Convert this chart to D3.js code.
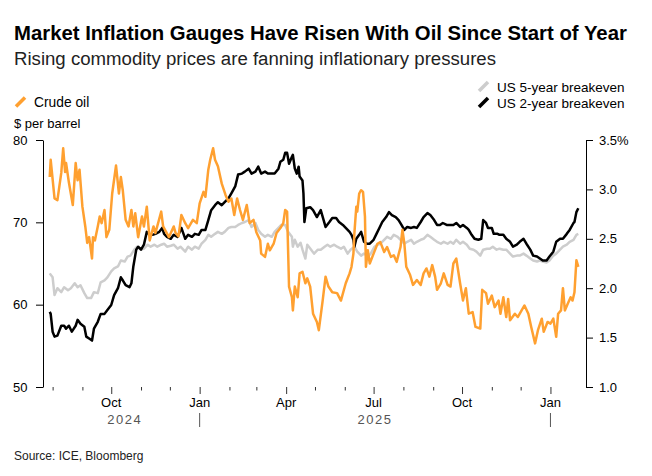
<!DOCTYPE html>
<html>
<head>
<meta charset="utf-8">
<script src="https://cdn.jsdelivr.net/npm/d3@7"></script>
<style>
  body { margin: 0; background: #fff; }
  svg { display: block; font-family: "Liberation Sans", Arial, sans-serif; }
</style>
</head>
<body>
<svg id="chart" width="652" height="476"></svg>
<script>
// ---- data ----
const oilData = [
  ["2024-07-29",75.5],["2024-07-30",77.6],["2024-08-03",72.9],["2024-08-06",72.7],["2024-08-10",76.0],["2024-08-12",79.0],
  ["2024-08-14",76.1],["2024-08-15",77.2],["2024-08-18",74.8],["2024-08-22",72.1],["2024-08-25",77.2],["2024-08-27",75.1],
  ["2024-08-29",76.4],["2024-09-01",71.9],["2024-09-04",69.5],["2024-09-06",67.5],["2024-09-08",68.2],["2024-09-11",65.6],
  ["2024-09-12",68.2],["2024-09-14",67.8],["2024-09-17",69.5],["2024-09-19",70.7],["2024-09-21",69.9],["2024-09-24",71.5],
  ["2024-09-26",68.2],["2024-09-29",69.1],["2024-10-02",73.5],["2024-10-06",76.9],["2024-10-09",73.5],["2024-10-11",75.5],
  ["2024-10-13",73.9],["2024-10-16",70.3],["2024-10-19",69.5],["2024-10-22",71.5],["2024-10-24",69.5],["2024-10-26",71.1],
  ["2024-10-29",68.2],["2024-11-02",70.7],["2024-11-04",69.5],["2024-11-07",71.9],["2024-11-10",67.8],["2024-11-14",69.5],
  ["2024-11-16",68.7],["2024-11-22",71.3],["2024-11-24",69.5],["2024-11-30",68.2],["2024-12-05",69.5],["2024-12-07",68.7],
  ["2024-12-10",68.3],["2024-12-13",70.9],["2024-12-17",69.9],["2024-12-20",69.3],["2024-12-25",70.3],["2024-12-29",69.9],
  ["2025-01-01",72.3],["2025-01-05",73.7],["2025-01-07",73.1],["2025-01-10",76.4],["2025-01-12",77.6],["2025-01-15",79.0],
  ["2025-01-17",77.6],["2025-01-20",76.8],["2025-01-24",74.7],["2025-01-28",73.3],["2025-01-31",72.5],["2025-02-03",72.9],
  ["2025-02-06",70.9],["2025-02-09",72.9],["2025-02-12",71.5],["2025-02-15",70.3],["2025-02-19",72.1],["2025-02-22",69.9],
  ["2025-02-26",70.3],["2025-03-01",68.8],["2025-03-05",67.8],["2025-03-06",66.2],["2025-03-10",65.8],["2025-03-13",67.4],
  ["2025-03-15",66.6],["2025-03-19",67.4],["2025-03-22",68.7],["2025-03-26",69.3],["2025-03-29",69.9],["2025-03-31",71.5],
  ["2025-04-02",71.3],["2025-04-04",62.2],["2025-04-07",60.9],["2025-04-08",59.3],["2025-04-10",62.2],["2025-04-13",60.9],
  ["2025-04-15",63.8],["2025-04-18",64.0],["2025-04-21",62.6],["2025-04-23",63.2],["2025-04-26",62.2],["2025-04-29",58.9],
  ["2025-05-03",57.9],["2025-05-05",56.9],["2025-05-09",60.5],["2025-05-12",63.4],["2025-05-15",62.2],["2025-05-19",61.5],
  ["2025-05-24",61.4],["2025-05-28",60.5],["2025-06-02",62.6],["2025-06-06",63.8],["2025-06-08",64.6],["2025-06-10",66.2],
  ["2025-06-11",68.7],["2025-06-13",71.9],["2025-06-14",71.3],["2025-06-16",73.5],["2025-06-18",73.9],["2025-06-20",73.7],
  ["2025-06-22",70.7],["2025-06-23",64.6],["2025-06-25",66.6],["2025-06-27",65.0],["2025-07-01",66.2],["2025-07-05",67.4],
  ["2025-07-08",67.6],["2025-07-12",66.4],["2025-07-15",67.0],["2025-07-19",65.8],["2025-07-22",66.0],["2025-07-25",65.2],
  ["2025-07-29",67.0],["2025-07-31",69.1],["2025-08-02",67.4],["2025-08-04",64.6],["2025-08-08",63.6],["2025-08-11",62.4],
  ["2025-08-15",63.0],["2025-08-19",62.4],["2025-08-22",63.8],["2025-08-25",64.4],["2025-08-28",63.4],["2025-08-31",64.8],
  ["2025-09-03",63.4],["2025-09-05",61.8],["2025-09-09",62.6],["2025-09-12",63.8],["2025-09-16",62.4],["2025-09-19",62.2],
  ["2025-09-22",65.0],["2025-09-25",65.6],["2025-09-29",62.6],["2025-10-02",60.5],["2025-10-05",62.0],["2025-10-08",58.9],
  ["2025-10-12",59.1],["2025-10-15",57.3],["2025-10-20",57.1],["2025-10-22",61.8],["2025-10-26",61.4],["2025-10-28",60.1],
  ["2025-11-01",61.1],["2025-11-04",59.7],["2025-11-08",60.5],["2025-11-10",58.9],["2025-11-13",60.9],["2025-11-16",58.5],
  ["2025-11-18",60.7],["2025-11-20",58.1],["2025-11-25",58.9],["2025-11-28",58.5],["2025-12-02",59.3],["2025-12-05",59.9],
  ["2025-12-09",58.9],["2025-12-12",57.3],["2025-12-16",55.3],["2025-12-19",56.9],["2025-12-23",58.3],["2025-12-25",56.7],
  ["2025-12-29",57.9],["2026-01-01",57.7],["2026-01-04",58.3],["2026-01-07",56.1],["2026-01-09",58.9],["2026-01-12",59.3],
  ["2026-01-14",62.0],["2026-01-16",59.3],["2026-01-19",60.1],["2026-01-22",60.9],["2026-01-24",60.5],["2026-01-26",61.5],
  ["2026-01-28",65.4],["2026-01-30",64.6]
];

const be5Data = [
  ["2024-07-29",2.15],["2024-08-01",2.11],["2024-08-03",1.93],["2024-08-06",2.00],["2024-08-10",1.96],["2024-08-13",2.01],
  ["2024-08-17",1.98],["2024-08-20",2.00],["2024-08-24",2.05],["2024-08-27",2.01],["2024-08-30",2.03],["2024-09-03",1.95],
  ["2024-09-06",1.90],["2024-09-10",1.90],["2024-09-13",1.96],["2024-09-17",1.95],["2024-09-20",2.06],["2024-09-24",2.08],
  ["2024-09-27",2.11],["2024-10-01",2.17],["2024-10-04",2.20],["2024-10-08",2.22],["2024-10-11",2.28],["2024-10-15",2.27],
  ["2024-10-18",2.32],["2024-10-21",2.33],["2024-10-25",2.39],["2024-10-28",2.42],["2024-11-01",2.39],["2024-11-04",2.40],
  ["2024-11-08",2.44],["2024-11-11",2.42],["2024-11-15",2.44],["2024-11-18",2.42],["2024-11-22",2.44],["2024-11-25",2.45],
  ["2024-11-28",2.42],["2024-12-02",2.43],["2024-12-05",2.44],["2024-12-09",2.40],["2024-12-12",2.42],["2024-12-17",2.37],
  ["2024-12-20",2.42],["2024-12-24",2.39],["2024-12-27",2.42],["2024-12-31",2.40],["2025-01-03",2.45],["2025-01-07",2.49],
  ["2025-01-10",2.54],["2025-01-13",2.52],["2025-01-17",2.55],["2025-01-20",2.57],["2025-01-24",2.55],["2025-01-27",2.57],
  ["2025-01-31",2.61],["2025-02-03",2.62],["2025-02-07",2.62],["2025-02-10",2.64],["2025-02-14",2.66],["2025-02-17",2.67],
  ["2025-02-21",2.69],["2025-02-24",2.62],["2025-02-28",2.66],["2025-03-03",2.59],["2025-03-06",2.55],["2025-03-10",2.52],
  ["2025-03-13",2.54],["2025-03-17",2.52],["2025-03-20",2.57],["2025-03-24",2.61],["2025-03-27",2.64],["2025-03-31",2.64],
  ["2025-04-03",2.57],["2025-04-07",2.52],["2025-04-08",2.42],["2025-04-10",2.49],["2025-04-13",2.42],["2025-04-16",2.46],
  ["2025-04-18",2.39],["2025-04-21",2.30],["2025-04-23",2.44],["2025-04-27",2.39],["2025-04-30",2.35],["2025-05-04",2.39],
  ["2025-05-07",2.39],["2025-05-11",2.42],["2025-05-14",2.44],["2025-05-17",2.42],["2025-05-21",2.44],["2025-05-24",2.42],
  ["2025-05-28",2.40],["2025-05-31",2.42],["2025-06-04",2.35],["2025-06-07",2.39],["2025-06-11",2.42],["2025-06-14",2.37],
  ["2025-06-18",2.33],["2025-06-21",2.35],["2025-06-25",2.32],["2025-06-28",2.35],["2025-07-02",2.42],["2025-07-05",2.44],
  ["2025-07-08",2.45],["2025-07-12",2.49],["2025-07-15",2.52],["2025-07-19",2.50],["2025-07-22",2.54],["2025-07-26",2.52],
  ["2025-07-29",2.49],["2025-08-02",2.45],["2025-08-05",2.47],["2025-08-09",2.49],["2025-08-12",2.45],["2025-08-15",2.47],
  ["2025-08-19",2.49],["2025-08-22",2.50],["2025-08-26",2.54],["2025-08-29",2.52],["2025-09-02",2.49],["2025-09-05",2.47],
  ["2025-09-09",2.45],["2025-09-12",2.47],["2025-09-16",2.45],["2025-09-19",2.47],["2025-09-22",2.45],["2025-09-25",2.49],
  ["2025-09-29",2.45],["2025-10-02",2.47],["2025-10-06",2.44],["2025-10-09",2.40],["2025-10-13",2.39],["2025-10-16",2.37],
  ["2025-10-20",2.33],["2025-10-23",2.39],["2025-10-27",2.40],["2025-10-30",2.40],["2025-11-02",2.42],["2025-11-06",2.39],
  ["2025-11-09",2.40],["2025-11-13",2.39],["2025-11-16",2.39],["2025-11-20",2.35],["2025-11-23",2.32],["2025-11-27",2.33],
  ["2025-11-30",2.33],["2025-12-04",2.35],["2025-12-07",2.33],["2025-12-11",2.30],["2025-12-14",2.28],["2025-12-18",2.27],
  ["2025-12-21",2.28],["2025-12-24",2.27],["2025-12-28",2.26],["2025-12-31",2.28],["2026-01-04",2.33],["2026-01-07",2.35],
  ["2026-01-11",2.39],["2026-01-14",2.42],["2026-01-18",2.44],["2026-01-21",2.47],["2026-01-25",2.49],["2026-01-28",2.54],
  ["2026-01-30",2.55]
];

const be2Data = [
  ["2024-07-29",1.76],["2024-07-30",1.74],["2024-08-01",1.56],["2024-08-03",1.51],["2024-08-06",1.52],["2024-08-10",1.62],
  ["2024-08-13",1.62],["2024-08-15",1.59],["2024-08-18",1.62],["2024-08-21",1.56],["2024-08-25",1.62],["2024-08-27",1.68],
  ["2024-08-30",1.64],["2024-09-03",1.61],["2024-09-05",1.51],["2024-09-08",1.49],["2024-09-11",1.47],["2024-09-13",1.59],
  ["2024-09-17",1.66],["2024-09-20",1.74],["2024-09-24",1.74],["2024-09-27",1.78],["2024-10-01",1.83],["2024-10-04",1.93],
  ["2024-10-08",2.00],["2024-10-11",2.11],["2024-10-13",2.08],["2024-10-16",2.03],["2024-10-20",2.01],["2024-10-22",2.05],
  ["2024-10-24",2.22],["2024-10-27",2.39],["2024-10-29",2.42],["2024-11-01",2.39],["2024-11-04",2.44],["2024-11-07",2.57],
  ["2024-11-09",2.55],["2024-11-13",2.54],["2024-11-16",2.55],["2024-11-20",2.57],["2024-11-23",2.61],["2024-11-25",2.55],
  ["2024-11-28",2.52],["2024-12-02",2.50],["2024-12-05",2.54],["2024-12-09",2.52],["2024-12-13",2.61],["2024-12-17",2.50],
  ["2024-12-20",2.54],["2024-12-24",2.52],["2024-12-27",2.55],["2024-12-31",2.54],["2025-01-03",2.59],["2025-01-07",2.59],
  ["2025-01-10",2.69],["2025-01-13",2.79],["2025-01-17",2.84],["2025-01-20",2.87],["2025-01-24",2.84],["2025-01-27",2.87],
  ["2025-01-31",2.91],["2025-02-03",2.96],["2025-02-07",3.03],["2025-02-10",3.15],["2025-02-14",3.16],["2025-02-17",3.18],
  ["2025-02-21",3.21],["2025-02-24",3.16],["2025-02-28",3.18],["2025-03-03",3.23],["2025-03-06",3.16],["2025-03-10",3.18],
  ["2025-03-13",3.16],["2025-03-17",3.16],["2025-03-20",3.16],["2025-03-24",3.21],["2025-03-26",3.28],["2025-03-29",3.30],
  ["2025-03-31",3.37],["2025-04-02",3.37],["2025-04-04",3.26],["2025-04-07",3.33],["2025-04-08",3.35],["2025-04-10",3.21],
  ["2025-04-12",3.16],["2025-04-14",3.23],["2025-04-15",3.13],["2025-04-18",3.09],["2025-04-19",2.96],["2025-04-20",2.67],
  ["2025-04-22",2.81],["2025-04-26",2.82],["2025-04-29",2.79],["2025-05-03",2.72],["2025-05-07",2.79],["2025-05-10",2.69],
  ["2025-05-12",2.62],["2025-05-16",2.67],["2025-05-19",2.71],["2025-05-23",2.71],["2025-05-26",2.67],["2025-05-30",2.64],
  ["2025-06-02",2.61],["2025-06-06",2.57],["2025-06-08",2.54],["2025-06-10",2.49],["2025-06-11",2.42],["2025-06-13",2.50],
  ["2025-06-16",2.54],["2025-06-18",2.57],["2025-06-21",2.47],["2025-06-24",2.45],["2025-06-27",2.45],["2025-07-01",2.49],
  ["2025-07-04",2.55],["2025-07-07",2.61],["2025-07-10",2.67],["2025-07-14",2.72],["2025-07-17",2.77],["2025-07-20",2.74],
  ["2025-07-24",2.72],["2025-07-27",2.69],["2025-07-30",2.64],["2025-08-02",2.59],["2025-08-05",2.62],["2025-08-09",2.61],
  ["2025-08-12",2.62],["2025-08-15",2.61],["2025-08-19",2.67],["2025-08-22",2.72],["2025-08-26",2.76],["2025-08-29",2.74],
  ["2025-09-02",2.69],["2025-09-05",2.64],["2025-09-08",2.64],["2025-09-11",2.66],["2025-09-15",2.64],["2025-09-18",2.64],
  ["2025-09-22",2.64],["2025-09-25",2.66],["2025-09-29",2.62],["2025-10-02",2.64],["2025-10-06",2.61],["2025-10-08",2.59],
  ["2025-10-11",2.54],["2025-10-14",2.50],["2025-10-18",2.49],["2025-10-21",2.50],["2025-10-23",2.69],["2025-10-26",2.66],
  ["2025-10-28",2.61],["2025-11-01",2.61],["2025-11-03",2.55],["2025-11-07",2.55],["2025-11-09",2.54],["2025-11-13",2.54],
  ["2025-11-16",2.50],["2025-11-20",2.47],["2025-11-23",2.42],["2025-11-27",2.44],["2025-11-30",2.47],["2025-12-04",2.50],
  ["2025-12-07",2.45],["2025-12-11",2.39],["2025-12-14",2.33],["2025-12-18",2.32],["2025-12-21",2.30],["2025-12-24",2.28],
  ["2025-12-28",2.28],["2025-12-31",2.32],["2026-01-04",2.37],["2026-01-07",2.47],["2026-01-11",2.50],["2026-01-14",2.50],
  ["2026-01-18",2.55],["2026-01-21",2.59],["2026-01-25",2.66],["2026-01-26",2.67],["2026-01-28",2.77],["2026-01-30",2.81]
];

const oilTicks = [50, 60, 70, 80];
const pctTicks = [1.0, 1.5, 2.0, 2.5, 3.0, 3.5];
const monthTicks = ["2024-08-01","2024-09-01","2024-10-01","2024-11-01","2024-12-01","2025-01-01",
  "2025-02-01","2025-03-01","2025-04-01","2025-05-01","2025-06-01","2025-07-01","2025-08-01",
  "2025-09-01","2025-10-01","2025-11-01","2025-12-01","2026-01-01"];
const monthLabels = [["2024-10-01","Oct"],["2025-01-01","Jan"],["2025-04-01","Apr"],
  ["2025-07-01","Jul"],["2025-10-01","Oct"],["2026-01-01","Jan"]];
const yearBreaks = ["2025-01-01","2026-01-01"];
const yearNames = ["2024", "2025"];

const ORANGE = "#ffa030", GREY = "#cdcdcd", BLACK = "#000";

// ---- setup ----
const parse = d3.utcParse("%Y-%m-%d");
const svg = d3.select("#chart");
const plotL = 43, plotR = 586, plotT = 140, plotB = 387;

const x = d3.scaleUtc()
  .domain([parse("2024-07-22"), parse("2026-02-07")])
  .range([plotL, plotR]);
const yOil = d3.scaleLinear().domain([50, 80]).range([plotB, plotT]);
const yPct = d3.scaleLinear().domain([1.0, 3.5]).range([plotB, plotT]);

function fitText(sel, width, size) {
  sel.style("font-size", size + "px");
  const len = sel.node().getComputedTextLength();
  sel.style("font-size", (size * width / len).toFixed(2) + "px");
}

// title + subtitle
const title = svg.append("text")
  .attr("x", 14).attr("y", 40)
  .attr("font-weight", "bold").attr("fill", "#000")
  .text("Market Inflation Gauges Have Risen With Oil Since Start of Year");
fitText(title, 613, 19);

const sub = svg.append("text")
  .attr("x", 14).attr("y", 65)
  .attr("fill", "#222")
  .text("Rising commodity prices are fanning inflationary pressures");
fitText(sub, 482, 16);

// legends
function swatch(x0, y0, color) {
  svg.append("line")
    .attr("x1", x0).attr("y1", y0)
    .attr("x2", x0 + 9).attr("y2", y0 - 9)
    .attr("stroke", color).attr("stroke-width", 3.5);
}
swatch(16, 106.5, ORANGE);
svg.append("text").attr("x", 34).attr("y", 107).style("font-size", "13.8px").text("Crude oil");

swatch(479, 91, GREY);
svg.append("text").attr("x", 497).attr("y", 91.5).style("font-size", "13.5px").text("US 5-year breakeven");
swatch(479, 107, BLACK);
svg.append("text").attr("x", 497).attr("y", 107.5).style("font-size", "13.5px").text("US 2-year breakeven");

svg.append("text").attr("x", 14).attr("y", 127.5).style("font-size", "13px").text("$ per barrel");

// axes
const gl = svg.append("g").attr("transform", `translate(${plotL},0)`)
  .call(d3.axisLeft(yOil).tickValues(oilTicks).tickSize(7).tickSizeOuter(0).tickPadding(9)
    .tickFormat(d3.format("d")));
const gr = svg.append("g").attr("transform", `translate(${plotR},0)`)
  .call(d3.axisRight(yPct).tickValues(pctTicks).tickSize(7).tickSizeOuter(0).tickPadding(6)
    .tickFormat(d => d === 3.5 ? "3.5%" : d3.format(".1f")(d)));
[gl, gr].forEach(g => {
  g.selectAll("text").style("font-size", "13px").attr("fill", "#000");
  g.selectAll("line, path").attr("stroke", "#000");
  g.attr("font-family", null);
});
gl.selectAll("text").attr("text-anchor", "start").attr("x", -30);

const quarterSet = new Set(monthLabels.map(d => d[0]));
const gx = svg.append("g").attr("transform", `translate(0,${plotB})`)
  .call(d3.axisBottom(x).tickValues(monthTicks.map(parse)).tickSize(3.5).tickFormat(""));
gx.select(".domain").remove();
gx.selectAll(".tick line")
  .attr("stroke", "#333")
  .attr("y2", d => quarterSet.has(d3.utcFormat("%Y-%m-%d")(d)) ? 7 : 3.5);

svg.append("g").selectAll("text")
  .data(monthLabels)
  .join("text")
  .attr("x", d => x(parse(d[0])))
  .attr("y", 406.5)
  .attr("text-anchor", "middle")
  .style("font-size", "13px")
  .text(d => d[1]);

svg.append("g").selectAll("line")
  .data(yearBreaks)
  .join("line")
  .attr("x1", d => x(parse(d))).attr("x2", d => x(parse(d)))
  .attr("y1", 413).attr("y2", 427)
  .attr("stroke", "#555");

const dataStart = parse(oilData[0][0]);
const yearCenters = [
  (x(dataStart) + x(parse(yearBreaks[0]))) / 2,
  (x(parse(yearBreaks[0])) + x(parse(yearBreaks[1]))) / 2
];
svg.append("g").selectAll("text")
  .data(yearNames)
  .join("text")
  .attr("x", (d, i) => yearCenters[i])
  .attr("y", 424)
  .attr("text-anchor", "middle")
  .attr("fill", "#555")
  .style("font-size", "13px")
  .style("letter-spacing", "1.5px")
  .text(d => d);

// lines
const pctLine = d3.line().x(d => x(parse(d[0]))).y(d => yPct(d[1]));
const oilLine = d3.line().x(d => x(parse(d[0]))).y(d => yOil(d[1]));

const plot = svg.append("g").attr("fill", "none")
  .attr("stroke-linejoin", "round").attr("stroke-width", 2.5);
plot.append("path").attr("d", pctLine(be5Data)).attr("stroke", GREY);
plot.append("path").attr("d", pctLine(be2Data)).attr("stroke", BLACK);
plot.append("path").attr("d", oilLine(oilData)).attr("stroke", ORANGE);

svg.append("text").attr("x", 14).attr("y", 459.5)
  .style("font-size", "12px").attr("fill", "#222")
  .text("Source: ICE, Bloomberg");
</script>
</body>
</html>
